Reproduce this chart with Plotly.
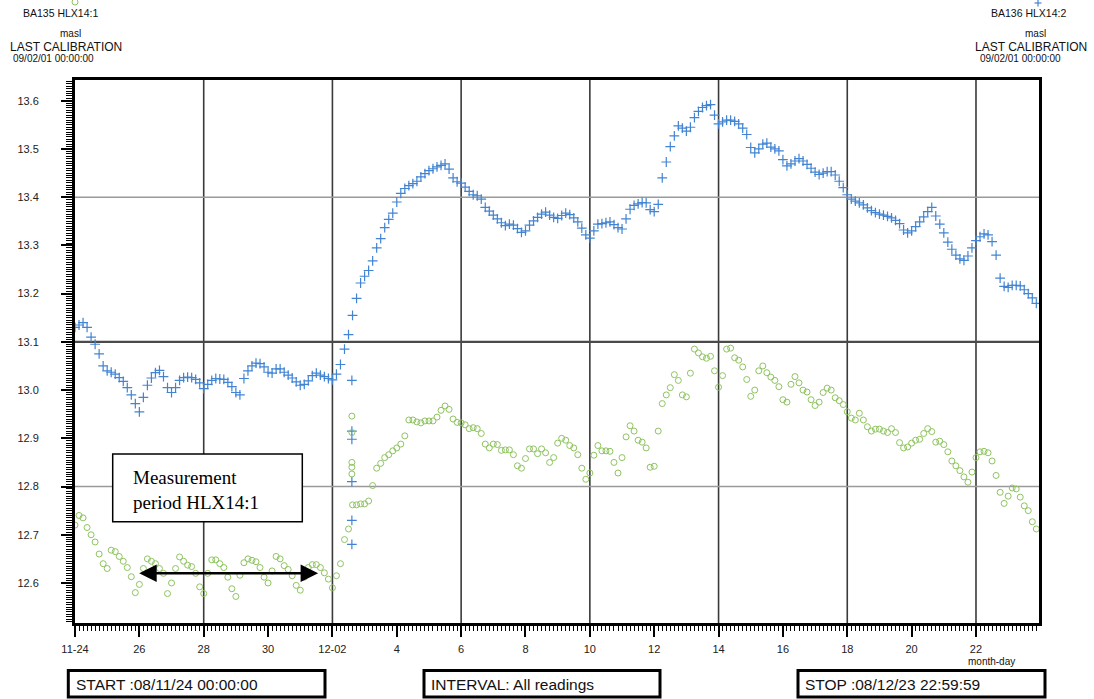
import pandas as pd
import plotly.graph_objects as go

# ---- readings (masl), one every 3 hours from 2008-11-24 00:00 ----
reading_times = pd.date_range("2008-11-24 00:00", periods=240, freq="3h")

hlx14_2_level = [
    13.13, 13.135, 13.14, 13.13, 13.11, 13.095, 13.075, 13.05, 13.04, 13.037,
    13.033, 13.026, 13.018, 13.005, 12.99, 12.972, 12.955, 12.985, 13.01, 13.025,
    13.036, 13.041, 13.028, 13.005, 12.995, 13.005, 13.02, 13.026, 13.027, 13.026,
    13.022, 13.015, 13.003, 13.012, 13.02, 13.024, 13.023, 13.022, 13.016, 13.007,
    12.995, 12.99, 13.024, 13.04, 13.05, 13.056, 13.055, 13.048, 13.037, 13.035,
    13.044, 13.044, 13.037, 13.031, 13.025, 13.017, 13.01, 13.012, 13.019, 13.03,
    13.035, 13.031, 13.028, 13.024, 13.021, 13.033, 13.053, 13.085, 13.115, 13.155,
    13.19, 13.222, 13.236, 13.248, 13.268, 13.295, 13.314, 13.337, 13.354, 13.367,
    13.39, 13.408, 13.418, 13.424, 13.428, 13.433, 13.442, 13.449, 13.455, 13.459,
    13.463, 13.466, 13.469, 13.458, 13.44, 13.432, 13.429, 13.421, 13.412, 13.405,
    13.403, 13.396, 13.379, 13.371, 13.363, 13.355, 13.347, 13.341, 13.344, 13.342,
    13.335, 13.327, 13.33, 13.342, 13.351, 13.358, 13.365, 13.369, 13.363, 13.358,
    13.356, 13.362, 13.367, 13.364, 13.357, 13.349, 13.336, 13.322, 13.315, 13.33,
    13.344, 13.345, 13.347, 13.349, 13.343, 13.337, 13.334, 13.355, 13.375, 13.383,
    13.386, 13.389, 13.388, 13.374, 13.37, 13.385, 13.44, 13.473, 13.505, 13.527,
    13.548, 13.543, 13.537, 13.545, 13.565, 13.578, 13.586, 13.59, 13.592, 13.57,
    13.552, 13.556, 13.56, 13.56, 13.557, 13.552, 13.543, 13.53, 13.503, 13.492,
    13.5, 13.51, 13.512, 13.504, 13.5, 13.496, 13.478, 13.465, 13.469, 13.475,
    13.48, 13.475, 13.468, 13.46, 13.452, 13.447, 13.45, 13.453, 13.453, 13.446,
    13.433, 13.42, 13.405, 13.396, 13.392, 13.388, 13.384, 13.378, 13.372, 13.368,
    13.365, 13.363, 13.36, 13.357, 13.352, 13.345, 13.332, 13.326, 13.33, 13.339,
    13.349, 13.359, 13.37, 13.379, 13.361, 13.344, 13.326, 13.307, 13.292, 13.28,
    13.272, 13.269, 13.278, 13.295, 13.31, 13.318, 13.324, 13.322, 13.308, 13.28,
    13.232, 13.215, 13.213, 13.217, 13.217, 13.216, 13.208, 13.2, 13.191, 13.18,
]

hlx14_1_level = [
    12.72, 12.74, 12.735, 12.715, 12.70, 12.685, 12.66, 12.64, 12.63, 12.668,
    12.665, 12.655, 12.645, 12.632, 12.613, 12.58, 12.597, 12.63, 12.65, 12.645,
    12.64, 12.63, 12.62, 12.578, 12.6, 12.63, 12.654, 12.645, 12.637, 12.634,
    12.62, 12.592, 12.578, 12.62, 12.648, 12.648, 12.64, 12.632, 12.612, 12.588,
    12.572, 12.616, 12.642, 12.65, 12.647, 12.644, 12.632, 12.612, 12.6, 12.625,
    12.655, 12.65, 12.636, 12.628, 12.615, 12.595, 12.585, 12.612, 12.632, 12.638,
    12.638, 12.632, 12.621, 12.608, 12.59, 12.615, 12.64, 12.69, 12.712, 12.762,
    12.762, 12.764, 12.764, 12.77, 12.802, 12.838, 12.848, 12.86, 12.866, 12.874,
    12.88, 12.888, 12.905, 12.938, 12.938, 12.934, 12.932, 12.936, 12.936, 12.936,
    12.944, 12.958, 12.967, 12.96, 12.94, 12.933, 12.932, 12.928, 12.92, 12.922,
    12.92, 12.91, 12.888, 12.88, 12.888, 12.887, 12.875, 12.876, 12.876, 12.866,
    12.843, 12.838, 12.858, 12.878, 12.878, 12.868, 12.878, 12.87, 12.85, 12.86,
    12.89, 12.9, 12.896, 12.885, 12.88, 12.866, 12.838, 12.815, 12.828, 12.865,
    12.885, 12.874, 12.874, 12.873, 12.85, 12.828, 12.86, 12.903, 12.926, 12.915,
    12.896, 12.892, 12.88, 12.84, 12.842, 12.915, 12.972, 12.99, 13.005, 13.032,
    13.02, 12.99, 12.986, 13.035, 13.085, 13.077, 13.069, 13.066, 13.07, 13.04,
    13.006, 13.03, 13.085, 13.087, 13.067, 13.062, 13.048, 13.022, 12.987, 13.0,
    13.04, 13.05, 13.036, 13.027, 13.02, 13.007, 12.98, 12.975, 13.012, 13.028,
    13.015, 13.0, 12.996, 12.98, 12.968, 12.975, 12.995, 13.004, 13.0, 12.984,
    12.978, 12.97, 12.955, 12.942, 12.938, 12.952, 12.938, 12.924, 12.915, 12.919,
    12.919, 12.915, 12.912, 12.92, 12.912, 12.891, 12.88, 12.882, 12.89, 12.896,
    12.898, 12.91, 12.92, 12.914, 12.892, 12.894, 12.887, 12.872, 12.853, 12.843,
    12.833, 12.82, 12.809, 12.83, 12.86, 12.872, 12.873, 12.87, 12.853, 12.823,
    12.788, 12.765, 12.78, 12.797, 12.795, 12.778, 12.76, 12.75, 12.727, 12.712,
]

# transient readings logged on 2 December around 14:30
transient_time = "2008-12-02 14:30"
hlx14_2_transient = [13.02, 12.915, 12.898, 12.81, 12.73, 12.68]
hlx14_1_transient = [12.946, 12.912, 12.85, 12.84, 12.826]

# ---- axis labels ----
x_tick_dates = pd.date_range("2008-11-24", "2008-12-22", freq="2D")
x_tick_text = ["11-24", "26", "28", "30", "12-02", "4", "6", "8",
               "10", "12", "14", "16", "18", "20", "22"]
x_grid_dates = pd.date_range("2008-11-28", "2008-12-22", freq="4D")
y_grid_levels = [12.8, 13.1, 13.4]

BLUE = "#4284d2"
GREEN = "#8fc460"
SANS = "Liberation Sans, Arial, Helvetica, sans-serif"
SERIF = "Liberation Serif, Times New Roman, serif"

W, H = 1094, 699
ML, MR, MT, MB = 75, 55, 80, 76
PW, PH = W - ML - MR, H - MT - MB


def px(x):
    return (x - ML) / PW


def py(y):
    return (H - MB - y) / PH


fig = go.Figure()

plus_marker = dict(symbol="cross-thin", size=7, color=BLUE,
                   line=dict(width=1.2, color=BLUE))
ring_marker = dict(symbol="circle-open", size=6, color=GREEN,
                   line=dict(width=1))

fig.add_trace(go.Scatter(x=reading_times, y=hlx14_2_level, mode="markers",
                         name="BA136 HLX14:2", marker=plus_marker))
fig.add_trace(go.Scatter(x=[transient_time] * len(hlx14_2_transient),
                         y=hlx14_2_transient, mode="markers",
                         showlegend=False, marker=plus_marker))
fig.add_trace(go.Scatter(x=reading_times, y=hlx14_1_level, mode="markers",
                         name="BA135 HLX14:1", marker=ring_marker))
fig.add_trace(go.Scatter(x=[transient_time] * len(hlx14_1_transient),
                         y=hlx14_1_transient, mode="markers",
                         showlegend=False, marker=ring_marker))

shapes = []
for d in x_grid_dates:
    shapes.append(dict(type="line", xref="x", yref="paper", x0=d, x1=d,
                       y0=0, y1=1, layer="below",
                       line=dict(color="#3a3a3a", width=1.6)))
for lv in y_grid_levels:
    dark = abs(lv - 13.1) < 1e-9
    shapes.append(dict(type="line", xref="paper", yref="y", x0=0, x1=1,
                       y0=lv, y1=lv, layer="below",
                       line=dict(color="#4a4a4a" if dark else "#9a9a9a",
                                 width=2.2 if dark else 1.6)))

# text box describing the measurement period
shapes.append(dict(type="rect", xref="paper", yref="paper",
                   x0=px(112.7), x1=px(302.3), y0=py(521.7), y1=py(454),
                   fillcolor="white", line=dict(color="black", width=1.5),
                   layer="above"))

# bottom information boxes
for x0, x1 in [(68.3, 325), (424, 660), (798, 1045)]:
    shapes.append(dict(type="rect", xref="paper", yref="paper",
                       x0=px(x0), x1=px(x1), y0=py(697), y1=py(670.5),
                       line=dict(color="black", width=3), fillcolor="white"))

# series symbols in the header: ring for HLX14:1, plus for HLX14:2
shapes.append(dict(type="circle", xref="paper", yref="paper",
                   xsizemode="pixel", ysizemode="pixel",
                   xanchor=px(75), yanchor=py(2), x0=-3, x1=3, y0=-3, y1=3,
                   line=dict(color=GREEN, width=1)))
for hx, hy in [((-3.5, 3.5), (0, 0)), ((0, 0), (-3.5, 3.5))]:
    shapes.append(dict(type="line", xref="paper", yref="paper",
                       xsizemode="pixel", ysizemode="pixel",
                       xanchor=px(1038), yanchor=py(3),
                       x0=hx[0], x1=hx[1], y0=hy[0], y1=hy[1],
                       line=dict(color=BLUE, width=1.2)))

annotations = []


def note(text, x, y, size, xanchor="center", family=SANS, color="#111"):
    annotations.append(dict(text=text, x=px(x), y=py(y), xref="paper",
                            yref="paper", xanchor=xanchor, yanchor="middle",
                            showarrow=False,
                            font=dict(family=family, size=size, color=color)))


note("BA135 HLX14:1", 60, 13, 10.5)
note("masl", 70, 33, 10)
note("LAST CALIBRATION", 66, 47, 12)
note("09/02/01 00:00:00", 53, 58, 10)

note("BA136 HLX14:2", 1028, 13, 10.5)
note("masl", 1035, 33, 10)
note("LAST CALIBRATION", 1031, 47, 12)
note("09/02/01 00:00:00", 1020, 58, 10)

note("month-day", 966, 661, 10, xanchor="left")

note("START :08/11/24 00:00:00", 74, 684, 15.5, xanchor="left")
note("INTERVAL: All readings", 429, 684, 15.5, xanchor="left")
note("STOP :08/12/23 22:59:59", 803, 684, 15.5, xanchor="left")

annotations.append(dict(
    text="Measurement<br>period HLX14:1", x=px(131), y=py(489.5),
    xref="paper", yref="paper", xanchor="left", yanchor="middle",
    align="left", showarrow=False,
    font=dict(family=SERIF, size=19, color="black"),
))

# double-headed arrow spanning the measurement period
annotations.append(dict(
    x="2008-12-01 13:20", y=12.62, ax="2008-11-25 22:45", ay=12.62,
    xref="x", yref="y", axref="x", ayref="y", text="",
    showarrow=True, arrowside="end+start", arrowhead=2, startarrowhead=2,
    arrowsize=1.4, startarrowsize=1.4, arrowwidth=2.5, arrowcolor="black",
    standoff=0, startstandoff=0,
))

fig.update_layout(
    width=W, height=H,
    margin=dict(l=ML, r=MR, t=MT, b=MB, pad=0),
    paper_bgcolor="white", plot_bgcolor="white",
    showlegend=False,
    shapes=shapes, annotations=annotations,
    font=dict(family=SANS, size=11, color="#222"),
)

fig.update_xaxes(
    type="date",
    range=["2008-11-24 00:00:00", "2008-12-23 22:59:59"],
    showgrid=False, zeroline=False,
    showline=True, linewidth=3, linecolor="black", mirror=True,
    tickmode="array", tickvals=x_tick_dates, ticktext=x_tick_text,
    ticks="outside", ticklen=11, tickwidth=2, tickcolor="black",
    ticklabelstandoff=3,
    tickfont=dict(family=SANS, size=11, color="#222"),
    minor=dict(tickmode="linear", tick0="2008-11-24", dtick=3 * 3600 * 1000,
               ticks="outside", ticklen=5, tickwidth=1, tickcolor="black",
               showgrid=False),
)

fig.update_yaxes(
    range=[12.517, 13.643],
    showgrid=False, zeroline=False,
    showline=True, linewidth=3, linecolor="black", mirror=True,
    tickmode="linear", tick0=12.6, dtick=0.1, tickformat=".1f",
    ticks="outside", ticklen=11, tickwidth=2, tickcolor="black",
    ticklabelstandoff=20,
    tickfont=dict(family=SANS, size=11, color="#222"),
    minor=dict(tickmode="linear", tick0=12.5, dtick=0.005,
               ticks="outside", ticklen=6, tickwidth=1, tickcolor="black",
               showgrid=False),
)

fig.write_html("out.html")
